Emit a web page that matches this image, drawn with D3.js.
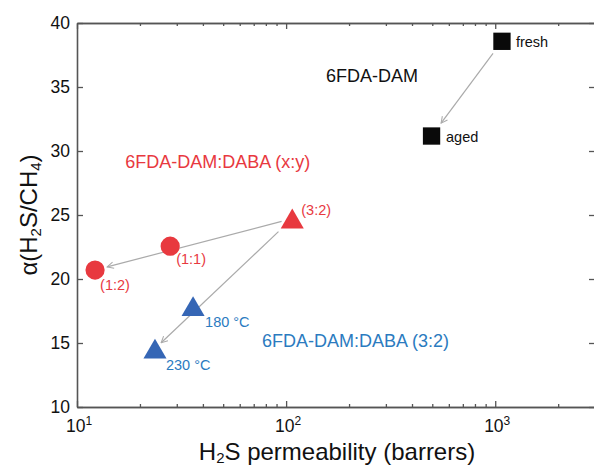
<!DOCTYPE html>
<html lang="en">
  <head>
    <meta charset="utf-8">
    <title>H2S permeability vs selectivity</title>
    <style>
    body { margin: 0; background: #fff; }
    svg { font-family: "Liberation Sans", Arial, sans-serif; }
    .tick-label { font-size: 17.5px; fill: #111; }
    .axis-title { font-size: 24px; fill: #111; }
    </style>
  </head>
  <body>
    <div id="chart"></div>
    <script src="https://d3js.org/d3.v7.min.js"></script>
    <script>
    (function(d3) {
        'use strict';

        // data
        var pointNames = ['fresh', 'aged', '(3:2)', '(1:1)', '(1:2)', '180 °C', '230 °C'];
        var permeability = [1077, 496, 107, 27.9, 12.2, 35.9, 23.6];
        var selectivity = [38.57, 31.17, 24.72, 22.56, 20.7, 17.88, 14.56];
        var pointGroup = ['dam', 'dam', 'red', 'red', 'red', 'blue', 'blue'];
        var pointShape = ['square', 'square', 'triangle', 'circle', 'circle', 'triangle', 'triangle'];

        var arrowFrom = ['fresh', '(3:2)', '(3:2)'];
        var arrowTo = ['aged', '(1:2)', '230 °C'];

        var xTicks = [10, 100, 1000];
        var yTicks = [10, 15, 20, 25, 30, 35, 40];

        var groupLabels = ['6FDA-DAM', '6FDA-DAM:DABA (x:y)', '6FDA-DAM:DABA (3:2)'];
        var groupLabelX = [155, 17, 76.7];
        var groupLabelY = [35.4, 28.67, 14.69];
        var groupLabelColor = ['dam', 'red', 'blue'];

        var width = 594, height = 466;
        var margin = {left: 77, right: -1, top: 23, bottom: 59};

        var colors = {dam: '#0a0a0a', red: '#e8393f', blue: '#3566b5'};
        var textColors = {dam: '#111', red: '#e8393f', blue: '#2b7bbf'};

        var x = d3.scaleLog().domain([10, 3000]).range([margin.left, width - margin.right]);
        var y = d3.scaleLinear().domain([10, 40]).range([height - margin.bottom, margin.top]);

        var svg = d3.select('#chart').append('svg')
            .attr('width', width)
            .attr('height', height);

        svg.append('defs').append('marker')
            .attr('id', 'arrow')
            .attr('viewBox', '0 0 10 10')
            .attr('refX', 9).attr('refY', 5)
            .attr('markerWidth', 8).attr('markerHeight', 8)
            .attr('markerUnits', 'userSpaceOnUse')
            .attr('orient', 'auto')
            .append('path')
            .attr('d', 'M1,1 L9,5 L1,9')
            .attr('fill', 'none')
            .attr('stroke', '#aaa')
            .attr('stroke-width', 1.3);

        var points = pointNames.map(function(n, i) {
            return {name: n, x: permeability[i], y: selectivity[i], group: pointGroup[i], shape: pointShape[i]};
        });
        var byName = {};
        points.forEach(function(p) { byName[p.name] = p; });

        // axes (inward ticks, mirrored on top/right)
        var axisColor = '#555';
        var minor = [];
        [10, 100, 1000].forEach(function(d) {
            for (var k = 2; k <= 9; k++) if (d * k <= 3000) minor.push(d * k);
        });

        var xBottom = d3.axisBottom(x).tickValues(xTicks).tickSizeInner(-6).tickSizeOuter(0).tickFormat('');
        var xBottomMinor = d3.axisBottom(x).tickValues(minor).tickSizeInner(-3).tickSizeOuter(0).tickFormat('');
        var xTop = d3.axisTop(x).tickValues(xTicks).tickSizeInner(-6).tickSizeOuter(0).tickFormat('');
        var xTopMinor = d3.axisTop(x).tickValues(minor).tickSizeInner(-3).tickSizeOuter(0).tickFormat('');
        var yLeft = d3.axisLeft(y).tickValues(yTicks).tickSizeInner(-6).tickSizeOuter(0).tickFormat('');
        var yRight = d3.axisRight(y).tickValues(yTicks).tickSizeInner(-6).tickSizeOuter(0).tickFormat('');

        function styleAxis(g) {
            g.selectAll('.domain').attr('stroke', axisColor).attr('stroke-width', 1.6);
            g.selectAll('.tick line').attr('stroke', axisColor).attr('stroke-width', 1.3);
        }

        svg.append('g').attr('transform', 'translate(0,' + y(10) + ')').call(xBottom).call(styleAxis);
        svg.append('g').attr('transform', 'translate(0,' + y(10) + ')').call(xBottomMinor).call(styleAxis);
        svg.append('g').attr('transform', 'translate(0,' + y(40) + ')').call(xTop).call(styleAxis);
        svg.append('g').attr('transform', 'translate(0,' + y(40) + ')').call(xTopMinor).call(styleAxis);
        svg.append('g').attr('transform', 'translate(' + x(10) + ',0)').call(yLeft).call(styleAxis);
        svg.append('g').attr('transform', 'translate(' + x(3000) + ',0)').call(yRight).call(styleAxis)
            .select('.domain').remove();

        // tick labels
        svg.selectAll('.ylab').data(yTicks).enter().append('text')
            .attr('class', 'tick-label')
            .attr('x', x(10) - 7)
            .attr('y', function(d) { return y(d); })
            .attr('dy', '0.36em')
            .attr('text-anchor', 'end')
            .text(function(d) { return d; });

        var xl = svg.selectAll('.xlab').data(xTicks).enter().append('text')
            .attr('class', 'tick-label')
            .attr('x', function(d) { return x(d) + 2; })
            .attr('y', y(10) + 25)
            .attr('text-anchor', 'middle');
        xl.append('tspan').text('10');
        xl.append('tspan').attr('font-size', '12px').attr('dy', '-7').text(function(d) { return Math.round(Math.log10(d)); });

        // axis titles
        var xt = svg.append('text').attr('class', 'axis-title')
            .attr('x', 337)
            .attr('y', height - 6)
            .attr('text-anchor', 'middle');
        xt.append('tspan').text('H');
        xt.append('tspan').attr('font-size', '15px').attr('dy', 3).text('2');
        xt.append('tspan').attr('dy', -3).text('S permeability (barrers)');

        var yt = svg.append('text').attr('class', 'axis-title')
            .attr('transform', 'translate(37,' + y(25) + ') rotate(-90)')
            .attr('text-anchor', 'middle');
        yt.append('tspan').text('α(H');
        yt.append('tspan').attr('font-size', '15px').attr('dy', 4).text('2');
        yt.append('tspan').attr('dy', -4).text('S/CH');
        yt.append('tspan').attr('font-size', '15px').attr('dy', 4).text('4');
        yt.append('tspan').attr('dy', -4).text(')');

        // arrows, shortened in pixel space
        arrowFrom.forEach(function(f, i) {
            var a = byName[f], b = byName[arrowTo[i]];
            var x1 = x(a.x), y1 = y(a.y), x2 = x(b.x), y2 = y(b.y);
            var len = Math.hypot(x2 - x1, y2 - y1);
            var ux = (x2 - x1) / len, uy = (y2 - y1) / len;
            var s = f === 'fresh' ? 15 : (arrowTo[i] === '(1:2)' ? 11 : 19);
            var e = f === 'fresh' ? 16 : (arrowTo[i] === '(1:2)' ? 12.5 : 8.5);
            svg.append('line')
                .attr('x1', x1 + ux * s).attr('y1', y1 + uy * s)
                .attr('x2', x2 - ux * e).attr('y2', y2 - uy * e)
                .attr('stroke', '#aaa')
                .attr('stroke-width', 1.2)
                .attr('marker-end', 'url(#arrow)');
        });

        // markers
        var sym = {
            square: d3.symbol().type(d3.symbolSquare).size(300),
            circle: d3.symbol().type(d3.symbolCircle).size(290),
            triangle: d3.symbol().type(d3.symbolTriangle).size(230)
        };
        svg.selectAll('.pt').data(points).enter().append('path')
            .attr('d', function(d) { return sym[d.shape](); })
            .attr('transform', function(d) {
                var dy = d.shape === 'triangle' ? 3.3 : 0;
                return 'translate(' + x(d.x) + ',' + (y(d.y) + dy) + ')';
            })
            .attr('fill', function(d) { return colors[d.group]; });

        // point labels
        var labelOffset = {
            'fresh': [14, 6], 'aged': [14.5, 5.5], '(3:2)': [9, -4], '(1:1)': [6, 17.5],
            '(1:2)': [5, 19.5], '180 °C': [12, 21], '230 °C': [11, 21]
        };
        svg.selectAll('.plab').data(points).enter().append('text')
            .attr('x', function(d) { return x(d.x) + labelOffset[d.name][0]; })
            .attr('y', function(d) { return y(d.y) + labelOffset[d.name][1]; })
            .attr('font-size', '14.5px')
            .attr('fill', function(d) { return textColors[d.group]; })
            .text(function(d) { return d.name; });

        // group annotations
        svg.selectAll('.glab').data(groupLabels).enter().append('text')
            .attr('x', function(d, i) { return x(groupLabelX[i]); })
            .attr('y', function(d, i) { return y(groupLabelY[i]); })
            .attr('font-size', '18px')
            .attr('fill', function(d, i) { return textColors[groupLabelColor[i]]; })
            .text(function(d) { return d; });

    })(window.d3);
    </script>
  </body>
</html>
